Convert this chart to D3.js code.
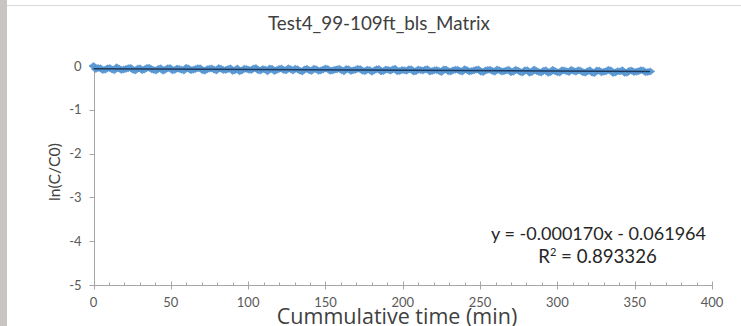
<!DOCTYPE html>
<html>
<head>
<meta charset="utf-8">
<script src="https://cdn.jsdelivr.net/npm/d3@7"></script>
<style>
  html, body { margin: 0; padding: 0; background: #ffffff; }
  svg { display: block; }
  text { font-family: Lato, "Open Sans", sans-serif; }
</style>
</head>
<body>
<svg id="chart" width="741" height="326"></svg>
<script>
// Elapsed time (min) and measured ln(C/C0), readings on the 3-minute marks
const timeMinA = [
  0, 3, 6, 9, 12, 15, 18, 21, 24, 27, 30, 33, 36, 39, 42, 45, 48, 51, 54, 57,
  60, 63, 66, 69, 72, 75, 78, 81, 84, 87, 90, 93, 96, 99, 102, 105, 108, 111, 114, 117,
  120, 123, 126, 129, 132, 135, 138, 141, 144, 147, 150, 153, 156, 159, 162, 165, 168, 171, 174, 177,
  180, 183, 186, 189, 192, 195, 198, 201, 204, 207, 210, 213, 216, 219, 222, 225, 228, 231, 234, 237,
  240, 243, 246, 249, 252, 255, 258, 261, 264, 267, 270, 273, 276, 279, 282, 285, 288, 291, 294, 297,
  300, 303, 306, 309, 312, 315, 318, 321, 324, 327, 330, 333, 336, 339, 342, 345, 348, 351, 354, 357, 360
];
const lnRatioA = [
  0.000, -0.043, -0.093, -0.054, -0.079, -0.030, -0.090, -0.066, -0.041, -0.102,
  -0.052, -0.078, -0.038, -0.089, -0.064, -0.110, -0.050, -0.099, -0.059, -0.084,
  -0.040, -0.095, -0.069, -0.050, -0.107, -0.061, -0.083, -0.048, -0.094, -0.071,
  -0.113, -0.056, -0.104, -0.068, -0.093, -0.047, -0.104, -0.079, -0.055, -0.116,
  -0.066, -0.092, -0.054, -0.103, -0.077, -0.123, -0.065, -0.113, -0.074, -0.100,
  -0.057, -0.111, -0.086, -0.064, -0.122, -0.073, -0.098, -0.064, -0.109, -0.084,
  -0.130, -0.074, -0.123, -0.082, -0.106, -0.061, -0.117, -0.095, -0.074, -0.128,
  -0.080, -0.104, -0.073, -0.115, -0.091, -0.139, -0.081, -0.127, -0.088, -0.114,
  -0.073, -0.123, -0.100, -0.080, -0.138, -0.090, -0.114, -0.078, -0.125, -0.101,
  -0.143, -0.086, -0.136, -0.098, -0.152, -0.078, -0.135, -0.109, -0.156, -0.088,
  -0.143, -0.097, -0.121, -0.088, -0.131, -0.107, -0.154, -0.098, -0.160, -0.105,
  -0.130, -0.088, -0.160, -0.118, -0.096, -0.154, -0.105, -0.132, -0.096, -0.143, -0.123
];

// Readings logged halfway between the 3-minute marks
const timeMinB = [
  1.5, 4.5, 7.5, 10.5, 13.5, 16.5, 19.5, 22.5, 25.5, 28.5, 31.5, 34.5, 37.5, 40.5, 43.5, 46.5, 49.5, 52.5, 55.5, 58.5,
  61.5, 64.5, 67.5, 70.5, 73.5, 76.5, 79.5, 82.5, 85.5, 88.5, 91.5, 94.5, 97.5, 100.5, 103.5, 106.5, 109.5, 112.5, 115.5, 118.5,
  121.5, 124.5, 127.5, 130.5, 133.5, 136.5, 139.5, 142.5, 145.5, 148.5, 151.5, 154.5, 157.5, 160.5, 163.5, 166.5, 169.5, 172.5, 175.5, 178.5,
  181.5, 184.5, 187.5, 190.5, 193.5, 196.5, 199.5, 202.5, 205.5, 208.5, 211.5, 214.5, 217.5, 220.5, 223.5, 226.5, 229.5, 232.5, 235.5, 238.5,
  241.5, 244.5, 247.5, 250.5, 253.5, 256.5, 259.5, 262.5, 265.5, 268.5, 271.5, 274.5, 277.5, 280.5, 283.5, 286.5, 289.5, 292.5, 295.5, 298.5,
  301.5, 304.5, 307.5, 310.5, 313.5, 316.5, 319.5, 322.5, 325.5, 328.5, 331.5, 334.5, 337.5, 340.5, 343.5, 346.5, 349.5, 352.5, 355.5, 358.5
];
const lnRatioB = [
  -0.071, -0.052, -0.085, -0.045, -0.097, -0.058, -0.081, -0.049, -0.088, -0.061,
  -0.096, -0.044, -0.075, -0.101, -0.053, -0.082, -0.046, -0.092, -0.067, -0.104,
  -0.058, -0.086, -0.049, -0.098, -0.072, -0.055, -0.101, -0.064, -0.089, -0.052,
  -0.097, -0.121, -0.062, -0.088, -0.059, -0.097, -0.070, -0.122, -0.064, -0.093,
  -0.056, -0.101, -0.072, -0.060, -0.106, -0.079, -0.095, -0.062, -0.111, -0.080,
  -0.067, -0.104, -0.076, -0.099, -0.066, -0.113, -0.085, -0.071, -0.118, -0.089,
  -0.102, -0.070, -0.115, -0.087, -0.078, -0.121, -0.090, -0.108, -0.076, -0.119,
  -0.093, -0.080, -0.125, -0.097, -0.112, -0.079, -0.122, -0.099, -0.084, -0.128,
  -0.094, -0.115, -0.083, -0.129, -0.101, -0.087, -0.132, -0.099, -0.118, -0.085,
  -0.131, -0.104, -0.147, -0.095, -0.139, -0.113, -0.150, -0.097, -0.141, -0.118,
  -0.149, -0.102, -0.137, -0.112, -0.096, -0.141, -0.119, -0.152, -0.103, -0.145,
  -0.121, -0.099, -0.148, -0.124, -0.156, -0.109, -0.139, -0.118, -0.101, -0.137
];

// Linear fit reported for the series
const fitSlope = -0.000170;
const fitIntercept = -0.061964;
const fitR2 = 0.893326;
const fitRange = [0, 360];

const xTicks = [0, 50, 100, 150, 200, 250, 300, 350, 400];
const xMinorTicks = d3.range(0, 401, 10);
const yTicks = [0, -1, -2, -3, -4, -5];

const chartTitle = "Test4_99-109ft_bls_Matrix";
const xTitle = "Cummulative time (min)";
const yTitle = "ln(C/C0)";

const points = timeMinA.map((t, i) => [t, lnRatioA[i]])
  .concat(timeMinB.map((t, i) => [t, lnRatioB[i]]))
  .sort((a, b) => a[0] - b[0]);

const svg = d3.select("#chart");

const defs = svg.append("defs");
defs.append("filter").attr("id", "soft").attr("x", "-5%").attr("y", "-50%").attr("width", "110%").attr("height", "200%")
  .append("feGaussianBlur").attr("stdDeviation", 0.6);

// surrounding frame
svg.append("rect").attr("x", 0).attr("y", 0).attr("width", 7).attr("height", 326).attr("fill", "#c9c5c1");
svg.append("line").attr("x1", 7).attr("x2", 741).attr("y1", 5.5).attr("y2", 5.5)
  .attr("stroke", "#d9d9d9").attr("stroke-width", 1);

const x = d3.scaleLinear().domain([0, 400]).range([93.5, 712]);
const y = d3.scaleLinear().domain([-5, 0]).range([285, 66]);

const axisColor = "#a6a6a6";
const labelColor = "#595959";
const titleColor = "#404040";

// scale a text's font so that it spans the given length
function fitText(sel, length) {
  const base = +sel.attr("font-size");
  const w = sel.node().getComputedTextLength();
  sel.attr("font-size", base * length / w);
  return sel;
}

// x axis
const gx = svg.append("g").attr("transform", `translate(0,${y(-5) + 0.5})`);
gx.append("line").attr("x1", x(0)).attr("x2", x(400)).attr("stroke", axisColor);
gx.selectAll("line.minor").data(xMinorTicks.filter(d => d % 50 !== 0)).join("line")
  .attr("class", "minor").attr("x1", d => Math.round(x(d)) + 0.5).attr("x2", d => Math.round(x(d)) + 0.5)
  .attr("y1", -3).attr("y2", 0).attr("stroke", axisColor);
gx.selectAll("line.major").data(xTicks).join("line")
  .attr("class", "major").attr("x1", d => Math.round(x(d)) + 0.5).attr("x2", d => Math.round(x(d)) + 0.5)
  .attr("y1", -4).attr("y2", 4).attr("stroke", axisColor);
gx.selectAll("text").data(xTicks).join("text")
  .attr("x", d => x(d)).attr("y", 21).attr("text-anchor", "middle")
  .attr("font-size", 13).attr("fill", labelColor).text(d => d);

// y axis
const gy = svg.append("g").attr("transform", `translate(${Math.round(x(0)) + 0.5},0)`);
gy.append("line").attr("y1", y(0)).attr("y2", y(-5)).attr("stroke", axisColor);
gy.selectAll("line.tick").data(yTicks).join("line")
  .attr("class", "tick").attr("y1", d => Math.round(y(d)) + 0.5).attr("y2", d => Math.round(y(d)) + 0.5)
  .attr("x1", -5).attr("x2", d => d === -5 ? 4 : 0).attr("stroke", axisColor);
gy.selectAll("text").data(yTicks).join("text")
  .attr("x", -13).attr("y", d => y(d) + 4.5).attr("text-anchor", "end")
  .attr("font-size", 13).attr("fill", labelColor).text(d => d);

// data points as diamonds
const dw = 4.5, dh = 3.5;
const diamondPath = `M0,${-dh}L${dw},0L0,${dh}L${-dw},0Z`;
svg.append("g").attr("filter", "url(#soft)").selectAll("path").data(points).join("path")
  .attr("d", diamondPath)
  .attr("transform", d => `translate(${x(d[0])},${y(d[1])})`)
  .attr("fill", "#5b9bd5").attr("stroke", "#4f8fcf").attr("stroke-width", 0.6);

// fitted line
svg.append("line")
  .attr("x1", x(fitRange[0])).attr("y1", y(fitIntercept + fitSlope * fitRange[0]))
  .attr("x2", x(fitRange[1])).attr("y2", y(fitIntercept + fitSlope * fitRange[1]))
  .attr("stroke", "#203a5c").attr("stroke-width", 1.5);

// titles
fitText(svg.append("text").attr("x", 379).attr("y", 30).attr("text-anchor", "middle")
  .attr("font-size", 18).attr("fill", titleColor).text(chartTitle), 222);
fitText(svg.append("text").attr("transform", "translate(60,172) rotate(-90)")
  .attr("text-anchor", "middle").attr("font-size", 18).attr("fill", titleColor).text(yTitle), 58);
svg.append("text").attr("x", 397).attr("y", 324).attr("text-anchor", "middle")
  .style("font-family", "'Open Sans', sans-serif")
  .attr("font-size", 21.5).attr("fill", titleColor).text(xTitle);

// fit annotation
const fmt6 = v => d3.format(".6f")(v).replace("\u2212", "-");
const eqText = `y = ${fmt6(fitSlope)}x - ${fmt6(Math.abs(fitIntercept))}`;
fitText(svg.append("text").attr("x", 706).attr("y", 240).attr("text-anchor", "end")
  .attr("font-size", 18).attr("fill", "#262626").text(eqText), 215);
const r2 = svg.append("text").attr("x", 597.5).attr("y", 263).attr("text-anchor", "middle")
  .attr("font-size", 18).attr("fill", "#262626");
r2.append("tspan").text("R");
r2.append("tspan").attr("font-size", 11).attr("dy", -7).text("2");
r2.append("tspan").attr("dy", 7).text(` = ${fmt6(fitR2)}`);
fitText(r2, 119);
</script>
</body>
</html>
